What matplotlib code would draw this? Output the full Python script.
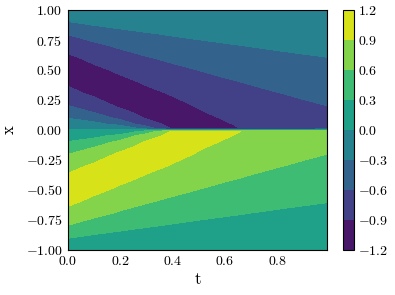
import numpy as np
import matplotlib
matplotlib.use("Agg")
import matplotlib.pyplot as plt

plt.rcParams["font.family"] = "serif"
plt.rcParams["font.serif"] = ["cmr10"]
plt.rcParams["mathtext.fontset"] = "cm"
plt.rcParams["axes.formatter.use_mathtext"] = True
plt.rcParams["font.size"] = 10

# time samples (columns) and space samples (rows)
t = [0.0, 0.1, 0.2, 0.3, 0.4, 0.5, 0.6, 0.7, 0.8, 0.9, 0.99]
x = [-1.0, -0.9, -0.8, -0.7, -0.6, -0.5, -0.4, -0.3, -0.2, -0.15, -0.1, -0.05, -0.01,
     0.0, 0.01, 0.05, 0.1, 0.15, 0.2, 0.3, 0.4, 0.5, 0.6, 0.7, 0.8, 0.9, 1.0]

# u(x, t), one row per x
u = [
    [0.000, 0.000, 0.000, 0.000, 0.000, 0.000, 0.000, 0.000, 0.000, 0.000, 0.000],
    [0.309, 0.237, 0.193, 0.161, 0.139, 0.122, 0.108, 0.098, 0.089, 0.082, 0.076],
    [0.588, 0.464, 0.380, 0.321, 0.277, 0.243, 0.217, 0.196, 0.179, 0.164, 0.153],
    [0.809, 0.669, 0.558, 0.475, 0.412, 0.363, 0.325, 0.293, 0.267, 0.245, 0.229],
    [0.951, 0.838, 0.720, 0.621, 0.543, 0.481, 0.430, 0.388, 0.354, 0.326, 0.305],
    [1.000, 0.955, 0.858, 0.756, 0.668, 0.595, 0.534, 0.483, 0.443, 0.405, 0.378],
    [0.951, 1.000, 0.959, 0.872, 0.783, 0.703, 0.634, 0.577, 0.527, 0.486, 0.454],
    [0.809, 0.946, 1.000, 0.962, 0.885, 0.805, 0.731, 0.666, 0.612, 0.565, 0.527],
    [0.588, 0.762, 0.939, 1.000, 0.962, 0.885, 0.815, 0.751, 0.694, 0.641, 0.601],
    [0.454, 0.617, 0.841, 0.985, 0.989, 0.915, 0.850, 0.790, 0.734, 0.680, 0.636],
    [0.309, 0.436, 0.672, 0.928, 1.000, 0.950, 0.885, 0.830, 0.773, 0.717, 0.672],
    [0.156, 0.226, 0.393, 0.777, 0.985, 0.975, 0.915, 0.860, 0.811, 0.751, 0.707],
    [0.031, 0.046, 0.084, 0.378, 0.934, 0.985, 0.930, 0.880, 0.835, 0.782, 0.734],
    [0.000, 0.000, 0.000, 0.000, 0.000, 0.000, 0.000, 0.000, 0.000, 0.000, 0.000],
    [-0.031, -0.046, -0.084, -0.378, -0.934, -0.985, -0.930, -0.880, -0.835, -0.782, -0.734],
    [-0.156, -0.226, -0.393, -0.777, -0.985, -0.975, -0.915, -0.860, -0.811, -0.751, -0.707],
    [-0.309, -0.436, -0.672, -0.928, -1.000, -0.950, -0.885, -0.830, -0.773, -0.717, -0.672],
    [-0.454, -0.617, -0.841, -0.985, -0.989, -0.915, -0.850, -0.790, -0.734, -0.680, -0.636],
    [-0.588, -0.762, -0.939, -1.000, -0.962, -0.885, -0.815, -0.751, -0.694, -0.641, -0.601],
    [-0.809, -0.946, -1.000, -0.962, -0.885, -0.805, -0.731, -0.666, -0.612, -0.565, -0.527],
    [-0.951, -1.000, -0.959, -0.872, -0.783, -0.703, -0.634, -0.577, -0.527, -0.486, -0.454],
    [-1.000, -0.955, -0.858, -0.756, -0.668, -0.595, -0.534, -0.483, -0.443, -0.405, -0.378],
    [-0.951, -0.838, -0.720, -0.621, -0.543, -0.481, -0.430, -0.388, -0.354, -0.326, -0.305],
    [-0.809, -0.669, -0.558, -0.475, -0.412, -0.363, -0.325, -0.293, -0.267, -0.245, -0.229],
    [-0.588, -0.464, -0.380, -0.321, -0.277, -0.243, -0.217, -0.196, -0.179, -0.164, -0.153],
    [-0.309, -0.237, -0.193, -0.161, -0.139, -0.122, -0.108, -0.098, -0.089, -0.082, -0.076],
    [0.000, 0.000, 0.000, 0.000, 0.000, 0.000, 0.000, 0.000, 0.000, 0.000, 0.000],
]

levels = [-1.2, -0.9, -0.6, -0.3, 0.0, 0.3, 0.6, 0.9, 1.2]

fig = plt.figure(figsize=(3.95, 2.95), dpi=100)
ax = fig.add_axes([0.172, 0.153, 0.656, 0.813])
cax = fig.add_axes([0.868, 0.153, 0.028, 0.813])

cs = ax.contourf(t, x, np.array(u), levels=levels, cmap="viridis")
ax.set_xlim(0, 0.99)
ax.set_ylim(-1, 1)
ax.set_xticks([0.0, 0.2, 0.4, 0.6, 0.8])
ax.set_yticks(np.arange(-1, 1.01, 0.25))
ax.tick_params(length=0, pad=4)
ax.set_xlabel("t", fontsize=12, labelpad=2)
ax.set_ylabel("x", fontsize=12, labelpad=6)

cb = fig.colorbar(cs, cax=cax, ticks=levels)
cb.ax.tick_params(length=0, pad=3)

fig.savefig("out.png", dpi=100)
